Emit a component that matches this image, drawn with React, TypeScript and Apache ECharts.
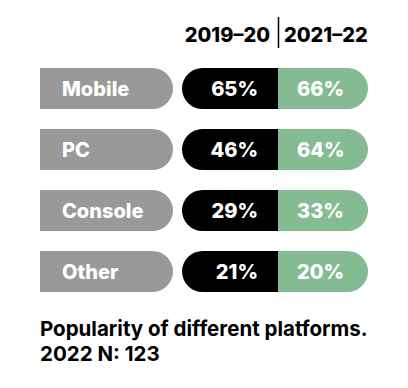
import { useEffect, useRef } from "react";
import * as echarts from "echarts";

const categories = ["Mobile", "PC", "Console", "Other"];
const values2019 = [65, 46, 29, 21];
const values2021 = [66, 64, 33, 20];
const periodLabels = ["2019–20", "2021–22"];
const titleLines = ["Popularity of different platforms.", "2022 N: 123"];

const FONT = "Inter, Roboto, sans-serif";
const WEIGHT = 800;
const GRAY = "#999999";
const BLACK = "#000000";
const GREEN = "#85bb92";

export default function App() {
  const ref = useRef<HTMLDivElement>(null);
  useEffect(() => {
    const chart = echarts.init(ref.current!, null, { renderer: "svg" });
    const data = categories.map((c, i) => [i, values2019[i], values2021[i]]);
    const renderItem = (params: any, api: any) => {
      const idx = api.value(0);
      const pt = api.coord([0, idx]);
      const x0 = pt[0];
      const cy = pt[1];
      const h = 41;
      const r = h / 2;
      const top = cy - r;
      const txt = (text: string, x: number, align: string) => ({
        type: "text",
        x,
        y: cy,
        style: {
          text,
          fill: "#ffffff",
          fontFamily: FONT,
          fontWeight: WEIGHT,
          fontSize: 20,
          align,
          verticalAlign: "middle",
        },
      });
      return {
        type: "group",
        children: [
          { type: "rect", shape: { x: x0, y: top, width: 133, height: h, r: [0, r, r, 0] }, style: { fill: GRAY } },
          { type: "rect", shape: { x: x0 + 142, y: top, width: 97, height: h, r: [r, 0, 0, r] }, style: { fill: BLACK } },
          { type: "rect", shape: { x: x0 + 238, y: top, width: 90, height: h, r: [0, r, r, 0] }, style: { fill: GREEN } },
          txt(categories[idx], x0 + 22, "left"),
          txt(api.value(1) + "%", x0 + 218, "right"),
          txt(api.value(2) + "%", x0 + 257, "left"),
        ],
      };
    };
    chart.setOption({
      animation: false,
      grid: { left: 40, right: 38, top: 58, height: 244 },
      xAxis: { type: "value", min: 0, max: 330, show: false },
      yAxis: { type: "category", data: categories, inverse: true, show: false },
      title: {
        text: titleLines.join("\n"),
        left: 40,
        top: 316,
        padding: 0,
        textStyle: {
          fontFamily: FONT,
          fontWeight: 700,
          fontSize: 20.5,
          lineHeight: 25,
          color: "#000000",
        },
      },
      graphic: [
        {
          type: "text",
          x: 270,
          y: 35,
          style: {
            text: periodLabels[0],
            fill: "#000",
            fontFamily: FONT,
            fontWeight: WEIGHT,
            fontSize: 20,
            align: "right",
            verticalAlign: "middle",
          },
        },
        {
          type: "line",
          shape: { x1: 278.5, y1: 17, x2: 278.5, y2: 48 },
          style: { stroke: "#000", lineWidth: 1.5 },
        },
        {
          type: "text",
          x: 284,
          y: 35,
          style: {
            text: periodLabels[1],
            fill: "#000",
            fontFamily: FONT,
            fontWeight: WEIGHT,
            fontSize: 20,
            align: "left",
            verticalAlign: "middle",
          },
        },
      ],
      series: [
        {
          type: "custom",
          data,
          encode: { y: 0 },
          renderItem,
        },
      ],
    });
    return () => chart.dispose();
  }, []);
  return (
    <div
      ref={ref}
      style={{ position: "fixed", left: 0, top: 0, width: 408, height: 388, background: "#fff" }}
    />
  );
}
